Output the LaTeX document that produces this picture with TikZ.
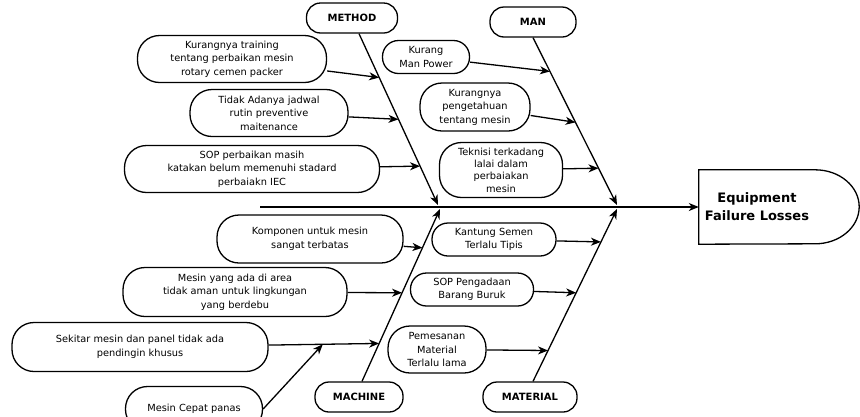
\documentclass[tikz,border=0pt]{standalone}
\usepackage{fontspec}
\setmainfont{DejaVu Sans}
\usetikzlibrary{arrows.meta}

\begin{document}
\begin{tikzpicture}[x=1pt, y=-1pt,
    cause/.style={draw, line width=1.3pt, rounded corners=16pt, inner sep=0pt, align=center, font=\fontsize{9.8}{13.5}\selectfont},
    tall/.style={rounded corners=22pt},
    category/.style={draw, line width=1.3pt, rounded corners=14pt, inner sep=0pt, minimum height=30, font=\fontsize{10}{12}\selectfont\bfseries},
    bone/.style={line width=1.3pt, -{Stealth[length=10pt, width=8pt, inset=3pt]}}]
    \useasboundingbox (0,0) rectangle (860,416);

    \node [category, minimum width=91] (method) at (352,18) {METHOD};
    \node [category, minimum width=86] (man) at (533,22) {MAN};
    \node [category, minimum width=88] (machine) at (359,397) {MACHINE};
    \node [category, minimum width=94] (material) at (530,397) {MATERIAL};

    \node [minimum width=116, minimum height=74, inner sep=0pt, align=center,
        font=\fontsize{13}{18}\selectfont\bfseries] (effect) at (757,207) {Equipment\\Failure Losses};
    \draw [line width=1.3pt] (effect.south west) -- (effect.north west) -- (effect.north east)
        arc [start angle=-90, end angle=90, x radius=44, y radius=37] -- cycle;

    \coordinate (tail) at (260,207);
    \coordinate (jmethod) at (438,205);
    \coordinate (jman) at (617,205);
    \coordinate (jmachine) at (440,209);
    \coordinate (jmaterial) at (617,209);

    \draw [bone] (tail) -- (effect.west);
    \draw [bone] ([xshift=7]method.south) -- (jmethod)
        coordinate [pos=0.256] (me1) coordinate [pos=0.5] (me2) coordinate [pos=0.773] (me3);
    \draw [bone] (man.south) -- (jman)
        coordinate [pos=0.202] (ma1) coordinate [pos=0.506] (ma2) coordinate [pos=0.78] (ma3);
    \draw [bone] ([xshift=3]machine.north) -- (jmachine)
        coordinate [pos=0.775] (mc1) coordinate [pos=0.514] (mc2) coordinate [pos=0.22] (mc3);
    \draw [bone] ([xshift=3]material.north) -- (jmaterial)
        coordinate [pos=0.809] (mt1) coordinate [pos=0.514] (mt2) coordinate [pos=0.179] (mt3);

    \node [cause, tall, minimum width=189, minimum height=47] (training) at (232,59)
        {Kurangnya training\\tentang perbaikan mesin\\rotary cemen packer};
    \node [cause, tall, minimum width=158, minimum height=47] (jadwal) at (269,113)
        {Tidak Adanya jadwal\\rutin preventive\\maitenance};
    \node [cause, tall, minimum width=255, minimum height=47] (sop) at (252,169)
        {SOP perbaikan masih\\katakan belum memenuhi stadard\\perbaiakn IEC};

    \node [cause, minimum width=87, minimum height=33] (manpower) at (426,57)
        {Kurang\\Man Power};
    \node [cause, tall, minimum width=110, minimum height=48] (pengetahuan) at (475,107)
        {Kurangnya\\pengetahuan\\tentang mesin};
    \node [cause, tall, minimum width=123, minimum height=55, font=\fontsize{9.8}{12.4}\selectfont] (teknisi) at (501,170)
        {Teknisi terkadang\\lalai dalam\\perbaiakan\\mesin};

    \node [cause, tall, minimum width=186, minimum height=48] (komponen) at (310,239)
        {Komponen untuk mesin\\sangat terbatas};
    \node [cause, tall, minimum width=224, minimum height=49] (berdebu) at (235,292)
        {Mesin yang ada di area\\tidak aman untuk lingkungan\\yang berdebu};
    \node [cause, tall, minimum width=256, minimum height=49] (pendingin) at (140,347)
        {Sekitar mesin dan panel tidak ada\\pendingin khusus};
    \node [cause, tall, minimum width=137, minimum height=45] (panas) at (194,409)
        {Mesin Cepat panas};

    \node [cause, minimum width=124, minimum height=33] (kantung) at (494,239.5)
        {Kantung Semen\\Terlalu Tipis};
    \node [cause, minimum width=123, minimum height=33] (pengadaan) at (472,289.5)
        {SOP Pengadaan\\Barang Buruk};
    \node [cause, tall, minimum width=98, minimum height=47] (pemesanan) at (437,349.5)
        {Pemesanan\\Material\\Terlalu lama};

    \draw [bone] (training) -- (me1);
    \draw [bone] (jadwal) -- (me2);
    \draw [bone] (sop) -- (me3);
    \draw [bone] (manpower) -- (ma1);
    \draw [bone] (pengetahuan) -- (ma2);
    \draw [bone] (teknisi) -- (ma3);
    \draw [bone] (komponen) -- (mc1);
    \draw [bone] (berdebu) -- (mc2);
    \draw [bone] (pendingin) -- (mc3) coordinate [pos=0.49] (sub);
    \draw [bone] (panas.east) -- (sub);
    \draw [bone] (kantung) -- (mt1);
    \draw [bone] (pengadaan) -- (mt2);
    \draw [bone] (pemesanan) -- (mt3);
\end{tikzpicture}
\end{document}
